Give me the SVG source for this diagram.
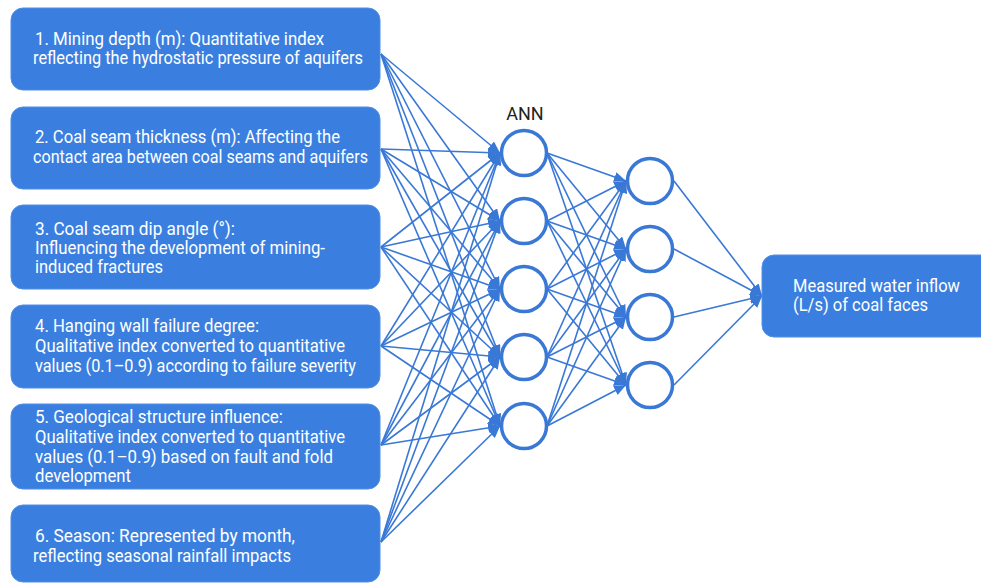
<svg xmlns="http://www.w3.org/2000/svg" width="981" height="584" viewBox="0 0 981 584">
<defs>
<marker id="arr" markerWidth="12" markerHeight="10" refX="12" refY="5" orient="auto" markerUnits="userSpaceOnUse">
<path d="M0,0 L12,5 L0,10 z" fill="#3a78d6"/>
</marker>
<style>
.box{fill:#3a7fe0;stroke:#4f8fe8;stroke-width:1}
.t{font-family:Roboto,"Liberation Sans",sans-serif;font-size:17.5px;fill:#ffffff}
.lbl{font-family:Roboto,"Liberation Sans",sans-serif;font-size:18px;fill:#222222}
.node{fill:#ffffff;stroke:#3a78d6;stroke-width:3.5}
.c line{stroke:#3a78d6;stroke-width:1.6;marker-end:url(#arr)}
</style>
</defs>
<rect width="981" height="584" fill="#ffffff"/>
<g class="c" id="connectors">
<line x1="381" y1="54" x2="500" y2="153"/><line x1="381" y1="54" x2="500" y2="221"/><line x1="381" y1="54" x2="500" y2="289"/><line x1="381" y1="54" x2="500" y2="357"/><line x1="381" y1="54" x2="500" y2="426"/>
<line x1="381" y1="149" x2="500" y2="153"/><line x1="381" y1="149" x2="500" y2="221"/><line x1="381" y1="149" x2="500" y2="289"/><line x1="381" y1="149" x2="500" y2="357"/><line x1="381" y1="149" x2="500" y2="426"/>
<line x1="381" y1="247" x2="500" y2="153"/><line x1="381" y1="247" x2="500" y2="221"/><line x1="381" y1="247" x2="500" y2="289"/><line x1="381" y1="247" x2="500" y2="357"/><line x1="381" y1="247" x2="500" y2="426"/>
<line x1="381" y1="346" x2="500" y2="153"/><line x1="381" y1="346" x2="500" y2="221"/><line x1="381" y1="346" x2="500" y2="289"/><line x1="381" y1="346" x2="500" y2="357"/><line x1="381" y1="346" x2="500" y2="426"/>
<line x1="381" y1="445" x2="500" y2="153"/><line x1="381" y1="445" x2="500" y2="221"/><line x1="381" y1="445" x2="500" y2="289"/><line x1="381" y1="445" x2="500" y2="357"/><line x1="381" y1="445" x2="500" y2="426"/>
<line x1="381" y1="542" x2="500" y2="153"/><line x1="381" y1="542" x2="500" y2="221"/><line x1="381" y1="542" x2="500" y2="289"/><line x1="381" y1="542" x2="500" y2="357"/><line x1="381" y1="542" x2="500" y2="426"/>
<line x1="547" y1="153" x2="626" y2="181"/><line x1="547" y1="153" x2="626" y2="249"/><line x1="547" y1="153" x2="626" y2="317"/><line x1="547" y1="153" x2="626" y2="385"/>
<line x1="547" y1="221" x2="626" y2="181"/><line x1="547" y1="221" x2="626" y2="249"/><line x1="547" y1="221" x2="626" y2="317"/><line x1="547" y1="221" x2="626" y2="385"/>
<line x1="547" y1="289" x2="626" y2="181"/><line x1="547" y1="289" x2="626" y2="249"/><line x1="547" y1="289" x2="626" y2="317"/><line x1="547" y1="289" x2="626" y2="385"/>
<line x1="547" y1="357" x2="626" y2="181"/><line x1="547" y1="357" x2="626" y2="249"/><line x1="547" y1="357" x2="626" y2="317"/><line x1="547" y1="357" x2="626" y2="385"/>
<line x1="547" y1="426" x2="626" y2="181"/><line x1="547" y1="426" x2="626" y2="249"/><line x1="547" y1="426" x2="626" y2="317"/><line x1="547" y1="426" x2="626" y2="385"/>
<line x1="674" y1="181" x2="762" y2="296"/><line x1="674" y1="249" x2="762" y2="296"/><line x1="674" y1="317" x2="762" y2="296"/><line x1="674" y1="385" x2="762" y2="296"/>
</g>
<g id="in1"><rect class="box" x="11" y="8" width="369" height="82" rx="12"/>
<text class="t" x="35" y="45" textLength="289" lengthAdjust="spacingAndGlyphs">1. Mining depth (m): Quantitative index</text>
<text class="t" x="33" y="64" textLength="330" lengthAdjust="spacingAndGlyphs">reflecting the hydrostatic pressure of aquifers</text></g>
<g id="in2"><rect class="box" x="11" y="107" width="369" height="82" rx="12"/>
<text class="t" x="35" y="143" textLength="305" lengthAdjust="spacingAndGlyphs">2. Coal seam thickness (m): Affecting the</text>
<text class="t" x="33" y="163" textLength="335" lengthAdjust="spacingAndGlyphs">contact area between coal seams and aquifers</text></g>
<g id="in3"><rect class="box" x="11" y="205" width="369" height="84" rx="12"/>
<text class="t" x="35" y="235" textLength="200" lengthAdjust="spacingAndGlyphs">3. Coal seam dip angle (°):</text>
<text class="t" x="35" y="254" textLength="290" lengthAdjust="spacingAndGlyphs">Influencing the development of mining-</text>
<text class="t" x="35" y="273" textLength="128" lengthAdjust="spacingAndGlyphs">induced fractures</text></g>
<g id="in4"><rect class="box" x="11" y="305" width="369" height="83" rx="12"/>
<text class="t" x="35" y="332" textLength="224" lengthAdjust="spacingAndGlyphs">4. Hanging wall failure degree:</text>
<text class="t" x="35" y="352" textLength="310" lengthAdjust="spacingAndGlyphs">Qualitative index converted to quantitative</text>
<text class="t" x="35" y="372" textLength="321" lengthAdjust="spacingAndGlyphs">values (0.1–0.9) according to failure severity</text></g>
<g id="in5"><rect class="box" x="11" y="404" width="369" height="85" rx="12"/>
<text class="t" x="35" y="423" textLength="248" lengthAdjust="spacingAndGlyphs">5. Geological structure influence:</text>
<text class="t" x="35" y="443" textLength="310" lengthAdjust="spacingAndGlyphs">Qualitative index converted to quantitative</text>
<text class="t" x="35" y="463" textLength="298" lengthAdjust="spacingAndGlyphs">values (0.1–0.9) based on fault and fold</text>
<text class="t" x="35" y="482" textLength="96" lengthAdjust="spacingAndGlyphs">development</text></g>
<g id="in6"><rect class="box" x="11" y="505" width="369" height="77" rx="12"/>
<text class="t" x="35" y="542" textLength="260" lengthAdjust="spacingAndGlyphs">6. Season: Represented by month,</text>
<text class="t" x="33" y="562" textLength="258" lengthAdjust="spacingAndGlyphs">reflecting seasonal rainfall impacts</text></g>
<g id="ann"><text class="lbl" x="525" y="120" text-anchor="middle">ANN</text></g>
<g id="h1"><circle class="node" cx="524" cy="153" r="22.5"/></g>
<g id="h2"><circle class="node" cx="524" cy="221" r="22.5"/></g>
<g id="h3"><circle class="node" cx="524" cy="289" r="22.5"/></g>
<g id="h4"><circle class="node" cx="524" cy="357" r="22.5"/></g>
<g id="h5"><circle class="node" cx="524" cy="426" r="22.5"/></g>
<g id="k1"><circle class="node" cx="650" cy="181" r="22.5"/></g>
<g id="k2"><circle class="node" cx="650" cy="249" r="22.5"/></g>
<g id="k3"><circle class="node" cx="650" cy="317" r="22.5"/></g>
<g id="k4"><circle class="node" cx="650" cy="385" r="22.5"/></g>
<g id="out"><rect class="box" x="762" y="255" width="240" height="82" rx="12"/>
<text class="t" x="793" y="292" textLength="167" lengthAdjust="spacingAndGlyphs">Measured water inflow</text>
<text class="t" x="793" y="311" textLength="135" lengthAdjust="spacingAndGlyphs">(L/s) of coal faces</text></g>
</svg>
